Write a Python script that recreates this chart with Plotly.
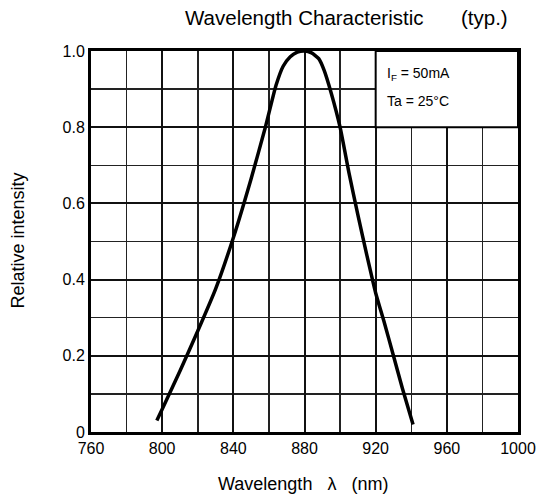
import plotly.graph_objects as go

wavelength = [797, 800, 810, 820, 830, 840, 850, 858, 864, 868, 872, 876, 880,
              884, 888, 891, 895, 900, 905, 910, 915, 920, 925, 930, 935, 941]
intensity = [0.03, 0.06, 0.16, 0.265, 0.375, 0.51, 0.665, 0.80, 0.91, 0.96, 0.985, 0.997, 1.0,
             0.995, 0.98, 0.95, 0.89, 0.80, 0.68, 0.57, 0.465, 0.365, 0.285, 0.20, 0.115, 0.02]
x_ticks = [760, 800, 840, 880, 920, 960, 1000]
y_ticks = [0, 0.2, 0.4, 0.6, 0.8, 1.0]
y_ticktext = ["0", "0.2", "0.4", "0.6", "0.8", "1.0"]

FONT = "Liberation Sans, Arial, sans-serif"
W, H = 537, 501
L, T = 91, 51
R, B = W - 518, H - 432
PW, PH = W - L - R, H - T - B


def px(X):
    return (X - L) / PW


def py(Y):
    return (H - B - Y) / PH


fig = go.Figure()
fig.add_trace(go.Scatter(x=wavelength, y=intensity, mode="lines",
                         line=dict(color="black", width=3.5, shape="spline", smoothing=0.5),
                         showlegend=False, hoverinfo="skip"))

fig.add_shape(type="rect", x0=920, x1=1000, y0=0.8, y1=1.0, xref="x", yref="y",
              fillcolor="white", line=dict(color="black", width=2), layer="above")


def ann(X, Y, text, size, xanchor="left", angle=0):
    fig.add_annotation(x=px(X), y=py(Y), xref="paper", yref="paper", xanchor=xanchor, yanchor="middle",
                       text=text, showarrow=False, textangle=angle,
                       font=dict(family=FONT, size=size, color="black"))


ann(385, 74, "I<sub>F</sub> = 50mA", 14)
ann(385, 101, "Ta = 25°C", 14)
ann(183, 17, "Wavelength Characteristic", 20.5)
ann(510, 17, "(typ.)", 20.5, xanchor="right")
ann(303, 484, "Wavelength \u00a0\u00a0λ \u00a0\u00a0(nm)", 18, xanchor="center")
ann(17.5, 241, "Relative intensity", 18, xanchor="center", angle=-90)

fig.update_layout(
    width=W, height=H,
    margin=dict(l=L, r=R, t=T, b=B),
    paper_bgcolor="white", plot_bgcolor="white",
    font=dict(family=FONT, size=16, color="black"),
)

fig.update_xaxes(range=[760, 1000], tickvals=x_ticks, ticks="", showline=True, mirror=True,
                 linecolor="black", linewidth=3, showgrid=True, gridcolor="#111111", gridwidth=2,
                 minor=dict(dtick=20, tick0=760, showgrid=True, gridcolor="#222222", gridwidth=1.5),
                 zeroline=False, tickfont=dict(size=16), automargin=False, ticklabeloverflow="allow")
fig.update_yaxes(range=[0, 1.0], tickvals=y_ticks, ticktext=y_ticktext, ticks="", showline=True, mirror=True,
                 linecolor="black", linewidth=3, showgrid=True, gridcolor="#111111", gridwidth=2,
                 minor=dict(dtick=0.1, tick0=0, showgrid=True, gridcolor="#222222", gridwidth=1.5),
                 zeroline=False, tickfont=dict(size=16), automargin=False)

fig.write_html("out.html", config={"displayModeBar": False, "staticPlot": True},
               post_script="document.body.style.margin='0';document.body.style.overflow='hidden';")
